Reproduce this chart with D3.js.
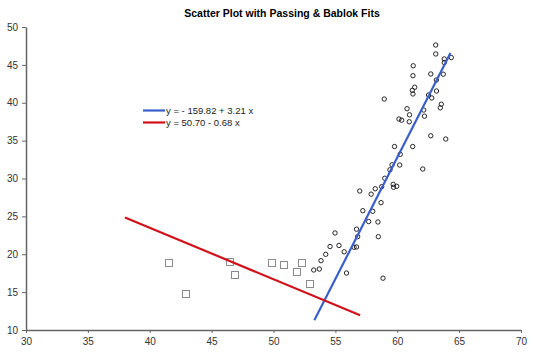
<!DOCTYPE html>
<html>
<head>
<meta charset="utf-8">
<script src="https://cdn.jsdelivr.net/npm/d3@7"></script>
<style>
html,body{margin:0;padding:0;background:#fff;}
svg{display:block;font-family:"Liberation Sans",Arial,sans-serif;}
</style>
</head>
<body>
<svg id="chart" width="540" height="360"></svg>
<script>
const title = "Scatter Plot with Passing & Bablok Fits";
const xTicks = [30, 35, 40, 45, 50, 55, 60, 65, 70];
const yTicks = [10, 15, 20, 25, 30, 35, 40, 45, 50];

// group A (gray open squares)
const squareX = [41.56, 42.93, 46.48, 46.89, 49.88, 50.85, 52.30, 51.90, 52.95];
const squareY = [18.85, 14.75, 18.98, 17.26, 18.85, 18.58, 18.85, 17.66, 16.07];

// group B (black open circles)
const circleX = [53.25, 53.70, 53.84, 54.22, 54.57, 55.29, 55.71, 56.51, 56.71, 55.90,
  58.85, 54.97, 56.71, 56.80, 58.47, 57.69, 58.44, 57.22, 58.02, 58.69,
  56.97, 58.22, 58.74, 57.89, 59.67, 59.70, 59.96, 58.99, 59.41, 59.58,
  60.20, 62.06, 60.24, 59.78, 61.25, 62.71, 63.92, 60.14, 60.36, 60.97,
  60.99, 62.20, 60.79, 62.14, 63.56, 63.48, 58.95, 62.53, 62.79, 63.17,
  61.22, 61.27, 61.41, 63.16, 61.27, 62.71, 63.72, 61.29, 63.80, 63.80,
  64.37, 63.11, 63.11];
const circleY = [17.92, 18.05, 19.15, 19.99, 21.02, 21.16, 20.32, 20.92, 20.96, 17.52,
  16.84, 22.81, 23.31, 22.32, 22.32, 24.32, 24.26, 25.75, 25.67, 26.81,
  28.35, 28.65, 28.92, 27.93, 29.23, 28.84, 28.97, 30.03, 31.15, 31.81,
  31.78, 31.25, 33.19, 34.22, 34.22, 35.64, 35.21, 37.85, 37.70, 37.49,
  38.41, 38.23, 39.21, 39.04, 39.81, 39.33, 40.49, 41.02, 40.63, 41.55,
  41.64, 41.16, 42.05, 43.00, 43.57, 43.80, 43.77, 44.88, 45.30, 45.78,
  45.97, 46.44, 47.62];

// fit lines: intercept, slope, x range
const fitLabels = ["y = - 159.82 + 3.21 x", "y = 50.70 - 0.68 x"];
const fitIntercepts = [-159.82, 50.70];
const fitSlopes = [3.21, -0.68];
const fitXStart = [53.3, 38.0];
const fitXEnd = [64.3, 57.0];
const fitColors = ["#3a5fcd", "#d0121b"];

const svg = d3.select("#chart");
const x = d3.scaleLinear().domain([30, 70]).range([26, 521]);
const y = d3.scaleLinear().domain([10, 50]).range([330, 27]);

svg.append("text").attr("x", 282).attr("y", 17).attr("text-anchor", "middle")
  .attr("font-size", "10.5px").attr("font-weight", "bold").attr("fill", "#000").text(title);

const xAxis = svg.append("g").attr("transform", "translate(0,330)")
  .call(d3.axisBottom(x).tickValues(xTicks).tickSize(3).tickPadding(5).tickSizeOuter(0));
const yAxis = svg.append("g").attr("transform", "translate(26,0)")
  .call(d3.axisLeft(y).tickValues(yTicks).tickSize(4).tickPadding(4).tickSizeOuter(0));
[xAxis, yAxis].forEach(g => {
  g.select(".domain").attr("stroke", "#666").attr("stroke-width", 1.5);
  g.selectAll(".tick line").attr("stroke", "#666").attr("stroke-width", 1);
  g.selectAll(".tick text").attr("fill", "#333").attr("font-size", "10px")
    .attr("font-family", "'Liberation Sans',Arial,sans-serif");
});

const squares = d3.range(squareX.length).map(i => ({x: squareX[i], y: squareY[i]}));
const circles = d3.range(circleX.length).map(i => ({x: circleX[i], y: circleY[i]}));

svg.append("g").selectAll("rect").data(squares).join("rect")
  .attr("x", d => x(d.x) - 3.5).attr("y", d => y(d.y) - 3.5)
  .attr("width", 7).attr("height", 7)
  .attr("fill", "none").attr("stroke", "#8a8a8a").attr("stroke-width", 1);

svg.append("g").selectAll("circle").data(circles).join("circle")
  .attr("cx", d => x(d.x)).attr("cy", d => y(d.y)).attr("r", 2.2)
  .attr("fill", "none").attr("stroke", "#111").attr("stroke-width", 0.9);

const fits = d3.range(fitLabels.length).map(i => ({
  label: fitLabels[i], a: fitIntercepts[i], b: fitSlopes[i],
  x0: fitXStart[i], x1: fitXEnd[i], color: fitColors[i]
}));
const line = d3.line().x(d => x(d[0])).y(d => y(d[1]));
svg.append("g").selectAll("path").data(fits).join("path")
  .attr("d", f => line([[f.x0, f.a + f.b * f.x0], [f.x1, f.a + f.b * f.x1]]))
  .attr("fill", "none").attr("stroke", f => f.color).attr("stroke-width", 2.2);

const legend = svg.append("g").selectAll("g").data(fits).join("g")
  .attr("transform", (f, i) => `translate(143,${110.5 + i * 12})`);
legend.append("line").attr("x1", 0).attr("x2", 22).attr("y1", 0).attr("y2", 0)
  .attr("stroke", f => f.color).attr("stroke-width", 2.2);
legend.append("text").attr("x", 23).attr("y", 3.5).attr("font-size", "9.5px")
  .attr("fill", "#222").text(f => f.label);
</script>
</body>
</html>
